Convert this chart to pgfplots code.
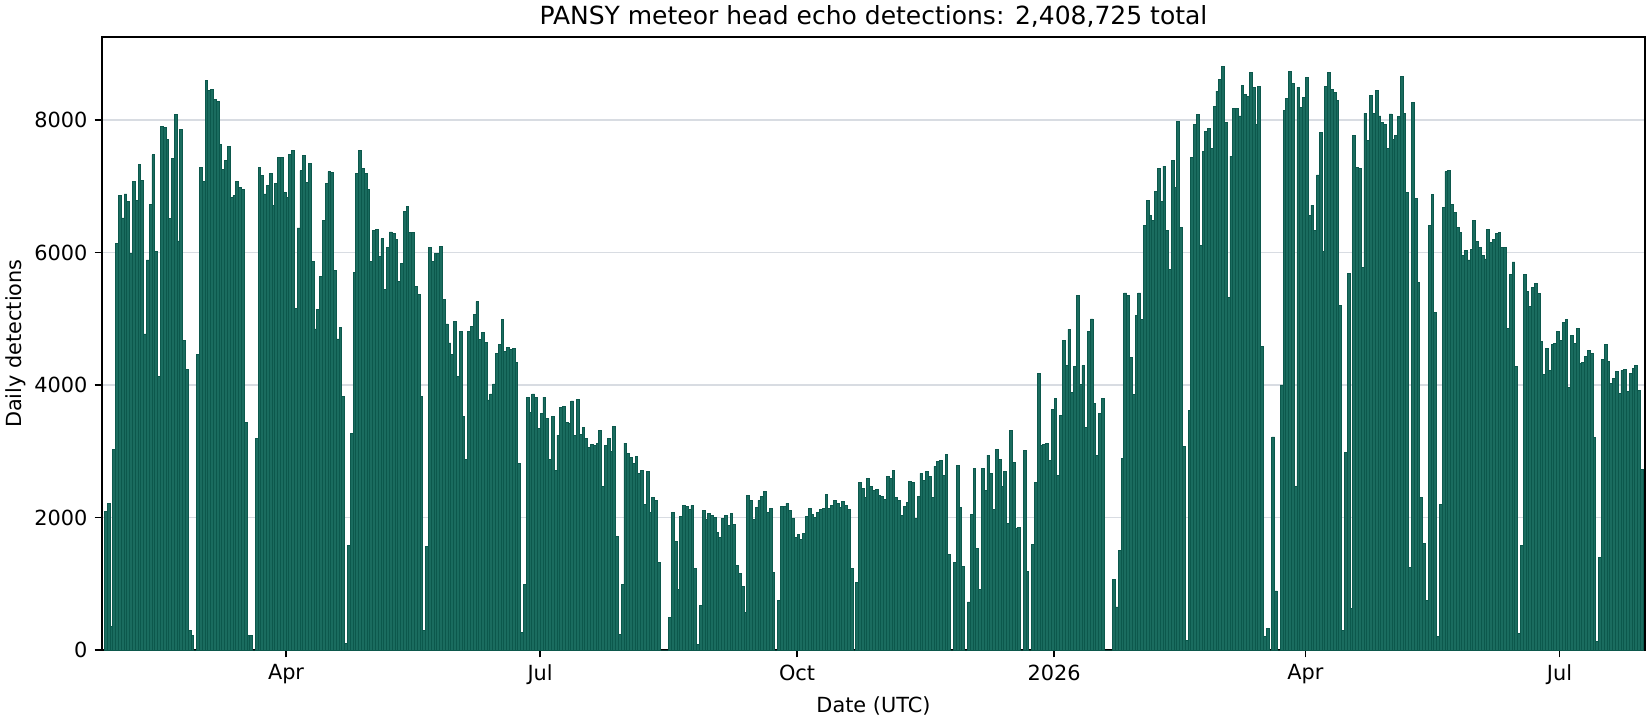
\documentclass[border=0pt]{standalone}
\usepackage{fontspec}
\setmainfont{DejaVu Sans}
\usepackage{pgfplots}
\usepackage{pgfplotstable}
\pgfplotsset{compat=1.18}
\definecolor{barfill}{RGB}{26,108,95}
\definecolor{baredge}{RGB}{12,88,76}
\definecolor{gridc}{RGB}{216,220,226}
\pgfplotstableread[row sep=\\]{
d v\\
25 2087\\ 26 2206\\ 27 350\\ 28 3030\\ 29 6130\\ 30 6856\\ 31 6520\\ 32 6883\\ 33 6764\\ 34 5978\\
35 7068\\ 36 6780\\ 37 7322\\ 38 7084\\ 39 4770\\ 40 5886\\ 41 6721\\ 42 7474\\ 43 6011\\ 44 4135\\
45 7897\\ 46 7881\\ 47 7702\\ 48 6509\\ 49 7415\\ 50 8081\\ 51 6173\\ 52 7854\\ 53 4677\\ 54 4238\\
55 300\\ 56 220\\ 57 0\\ 58 4466\\ 59 7279\\ 60 7068\\ 61 8590\\ 62 8450\\ 63 8460\\ 64 8309\\
65 8276\\ 66 7626\\ 67 7247\\ 68 7393\\ 69 7593\\ 70 6824\\ 71 6856\\ 72 7068\\ 73 6975\\ 74 6948\\
75 3436\\ 76 220\\ 77 220\\ 78 0\\ 79 3198\\ 80 7279\\ 81 7160\\ 82 6883\\ 83 7008\\ 84 7187\\
85 6705\\ 86 7035\\ 87 7431\\ 88 7431\\ 89 6900\\ 90 6824\\ 91 7474\\ 92 7534\\ 93 5160\\ 94 6369\\
95 7236\\ 96 7458\\ 97 7051\\ 98 7339\\ 99 5859\\ 100 4845\\ 101 5144\\ 102 5631\\ 103 6477\\ 104 7035\\
105 7219\\ 106 7203\\ 107 5734\\ 108 4694\\ 109 4873\\ 110 3821\\ 111 100\\ 112 1577\\ 113 3274\\ 114 5691\\
115 7187\\ 116 7534\\ 117 7263\\ 118 7187\\ 119 6948\\ 120 5870\\ 121 6325\\ 122 6341\\ 123 5946\\ 124 6206\\
125 5447\\ 126 6081\\ 127 6309\\ 128 6293\\ 129 6190\\ 130 5556\\ 131 5827\\ 132 6612\\ 133 6688\\ 134 6298\\
135 6298\\ 136 5480\\ 137 5360\\ 138 3821\\ 139 300\\ 140 1561\\ 141 6070\\ 142 5870\\ 143 5978\\ 144 5978\\
145 6097\\ 146 5295\\ 147 4921\\ 148 4634\\ 149 4466\\ 150 4965\\ 151 4135\\ 152 4813\\ 153 3528\\ 154 2878\\
155 4803\\ 156 4889\\ 157 5060\\ 158 5257\\ 159 4682\\ 160 4788\\ 161 4636\\ 162 3773\\ 163 3864\\ 164 4015\\
165 4470\\ 166 4616\\ 167 4985\\ 168 4500\\ 169 4560\\ 170 4530\\ 171 4545\\ 172 4333\\ 173 2818\\ 174 270\\
175 985\\ 176 3818\\ 177 3591\\ 178 3864\\ 179 3818\\ 180 3349\\ 181 3576\\ 182 3818\\ 183 3500\\ 184 2879\\
185 3530\\ 186 2712\\ 187 3242\\ 188 3667\\ 189 3682\\ 190 3440\\ 191 3424\\ 192 3758\\ 193 3242\\ 194 3788\\
195 3258\\ 196 3364\\ 197 3197\\ 198 3061\\ 199 3101\\ 200 3091\\ 201 3121\\ 202 3318\\ 203 2470\\ 204 3091\\
205 3197\\ 206 3000\\ 207 3379\\ 208 1712\\ 209 230\\ 210 985\\ 211 3121\\ 212 2970\\ 213 2909\\ 214 2818\\
215 2924\\ 216 2667\\ 217 2712\\ 218 2197\\ 219 2697\\ 220 2076\\ 221 2303\\ 222 2258\\ 223 1318\\ 224 0\\
225 0\\ 226 0\\ 227 485\\ 228 2076\\ 229 1636\\ 230 909\\ 231 2015\\ 232 2182\\ 233 2167\\ 234 2121\\
235 2182\\ 236 1227\\ 237 90\\ 238 667\\ 239 2106\\ 240 1970\\ 241 2061\\ 242 2030\\ 243 2000\\ 244 1773\\
245 1697\\ 246 1985\\ 247 2030\\ 248 1879\\ 249 2061\\ 250 1894\\ 251 1273\\ 252 1152\\ 253 955\\ 254 561\\
255 2333\\ 256 2258\\ 257 1970\\ 258 2152\\ 259 2258\\ 260 2318\\ 261 2394\\ 262 2076\\ 263 2136\\ 264 1167\\
265 0\\ 266 742\\ 267 2167\\ 268 2167\\ 269 2212\\ 270 2106\\ 271 1985\\ 272 1697\\ 273 1742\\ 274 1667\\
275 1758\\ 276 2015\\ 277 2136\\ 278 2045\\ 279 2000\\ 280 2076\\ 281 2121\\ 282 2136\\ 283 2348\\ 284 2136\\
285 2182\\ 286 2258\\ 287 2212\\ 288 2152\\ 289 2242\\ 290 2182\\ 291 2121\\ 292 1227\\ 293 0\\ 294 1015\\
295 2530\\ 296 2439\\ 297 2303\\ 298 2591\\ 299 2470\\ 300 2409\\ 301 2424\\ 302 2333\\ 303 2318\\ 304 2273\\
305 2621\\ 306 2591\\ 307 2712\\ 308 2303\\ 309 2258\\ 310 2030\\ 311 2167\\ 312 2227\\ 313 2545\\ 314 2530\\
315 1985\\ 316 2318\\ 317 2667\\ 318 2561\\ 319 2697\\ 320 2621\\ 321 2303\\ 322 2773\\ 323 2848\\ 324 2864\\
325 2636\\ 326 2954\\ 327 1439\\ 328 0\\ 329 1318\\ 330 2788\\ 331 2152\\ 332 1257\\ 333 0\\ 334 725\\
335 2045\\ 336 2744\\ 337 1529\\ 338 907\\ 339 2744\\ 340 2410\\ 341 2941\\ 342 2668\\ 343 2121\\ 344 3032\\
345 2880\\ 346 2471\\ 347 2698\\ 348 1909\\ 349 3320\\ 350 2835\\ 351 1833\\ 352 1848\\ 353 0\\ 354 3017\\
355 1180\\ 356 0\\ 357 1590\\ 358 2531\\ 359 4171\\ 360 3093\\ 361 3108\\ 362 3123\\ 363 2865\\ 364 3624\\
365 3791\\ 366 2638\\ 367 3533\\ 368 4672\\ 369 4292\\ 370 4839\\ 371 3882\\ 372 4277\\ 373 5355\\ 374 4004\\
375 4296\\ 376 3355\\ 377 4811\\ 378 4996\\ 379 3725\\ 380 2935\\ 381 3574\\ 382 3792\\ 383 0\\ 384 0\\
385 0\\ 386 1070\\ 387 650\\ 388 1507\\ 389 2885\\ 390 5388\\ 391 5354\\ 392 4414\\ 393 3854\\ 394 5052\\
395 5388\\ 396 4985\\ 397 6413\\ 398 6782\\ 399 6564\\ 400 6480\\ 401 6922\\ 402 7270\\ 403 6766\\ 404 7303\\
405 6329\\ 406 5741\\ 407 7393\\ 408 6984\\ 409 7981\\ 410 6379\\ 411 3075\\ 412 150\\ 413 3618\\ 414 7438\\
415 7936\\ 416 8087\\ 417 6110\\ 418 7527\\ 419 7830\\ 420 7874\\ 421 7572\\ 422 8205\\ 423 8434\\ 424 8614\\
425 8810\\ 426 7964\\ 427 5326\\ 428 7454\\ 429 8177\\ 430 8177\\ 431 8059\\ 432 8524\\ 433 8390\\ 434 8356\\
435 8720\\ 436 8496\\ 437 7936\\ 438 8507\\ 439 4587\\ 440 200\\ 441 330\\ 442 0\\ 443 3215\\ 444 891\\
445 0\\ 446 4000\\ 447 8149\\ 448 8328\\ 449 8737\\ 450 8552\\ 451 2470\\ 452 8496\\ 453 8194\\ 454 8345\\
455 8647\\ 456 6564\\ 457 6715\\ 458 6329\\ 459 7169\\ 460 7813\\ 461 6010\\ 462 8507\\ 463 8720\\ 464 8460\\
465 8420\\ 466 8300\\ 467 5195\\ 468 290\\ 469 2988\\ 470 5679\\ 471 629\\ 472 7766\\ 473 7282\\ 474 7267\\
475 5770\\ 476 8100\\ 477 7690\\ 478 8370\\ 479 8100\\ 480 8440\\ 481 8060\\ 482 7962\\ 483 7932\\ 484 7569\\
485 8090\\ 486 7705\\ 487 7766\\ 488 8050\\ 489 8660\\ 490 8100\\ 491 6904\\ 492 1249\\ 493 8270\\ 494 6813\\
495 5543\\ 496 2307\\ 497 1612\\ 498 750\\ 499 6405\\ 500 6874\\ 501 5090\\ 502 210\\ 503 2202\\ 504 6677\\
505 7221\\ 506 7240\\ 507 6730\\ 508 6600\\ 509 6380\\ 510 6300\\ 511 5950\\ 512 6030\\ 513 5886\\ 514 6050\\
515 6480\\ 516 6160\\ 517 6080\\ 518 5950\\ 519 5901\\ 520 6350\\ 521 6150\\ 522 6200\\ 523 6280\\ 524 6300\\
525 6070\\ 526 6080\\ 527 4854\\ 528 5674\\ 529 5856\\ 530 4277\\ 531 250\\ 532 1575\\ 533 5674\\ 534 5416\\
535 5188\\ 536 5477\\ 537 5537\\ 538 5385\\ 539 4657\\ 540 4156\\ 541 4550\\ 542 4216\\ 543 4611\\ 544 4626\\
545 4808\\ 546 4672\\ 547 4945\\ 548 4990\\ 549 3958\\ 550 4748\\ 551 4620\\ 552 4850\\ 553 4330\\ 554 4340\\
555 4430\\ 556 4520\\ 557 4480\\ 558 3210\\ 559 130\\ 560 1400\\ 561 4380\\ 562 4610\\ 563 4360\\ 564 4020\\
565 4100\\ 566 4200\\ 567 3870\\ 568 4220\\ 569 4230\\ 570 3900\\ 571 4180\\ 572 4250\\ 573 4300\\ 574 3920\\
575 2730\\
}\daily
\begin{document}
\begin{tikzpicture}
\path[use as bounding box] (-48.96pt,-33.6pt) rectangle (743.04pt,312pt);
\begin{axis}[
  at={(0,0)}, anchor=south west, scale only axis,
  width=740.6pt, height=294.2pt,
  xmin=24.1, xmax=576.6, ymin=0, ymax=9250,
  ybar, bar width=1,
  xtick={90,181,273,365,455,546},
  xticklabels={Apr,Jul,Oct,2026,Apr,Jul},
  ytick={0,2000,4000,6000,8000},
  scaled y ticks=false,
  /pgf/number format/1000 sep={},
  /pgf/number format/assume math mode=true,
  tick align=outside, tick pos=left,
  major tick length=3.5pt,
  tick style={black, line width=0.8pt},
  axis line style={black, line width=0.8pt},
  ymajorgrids, major grid style={gridc, line width=0.6pt},
  xlabel={Date (UTC)}, ylabel={Daily detections},
  label style={font=\fontsize{10}{12}\selectfont},
  ylabel style={yshift=-3pt},
  xlabel style={yshift=1pt},
  tick label style={font=\fontsize{10}{12}\selectfont},
]
\addplot[fill=barfill, draw=baredge, line width=0.4pt] table[x expr=\thisrow{d}+0.5, y=v]{\daily};
\end{axis}
\node[anchor=base, font=\fontsize{12}{14}\selectfont] at (370.3pt,300.2pt) {PANSY meteor head echo detections: 2,408,725 total};
\end{tikzpicture}
\end{document}
